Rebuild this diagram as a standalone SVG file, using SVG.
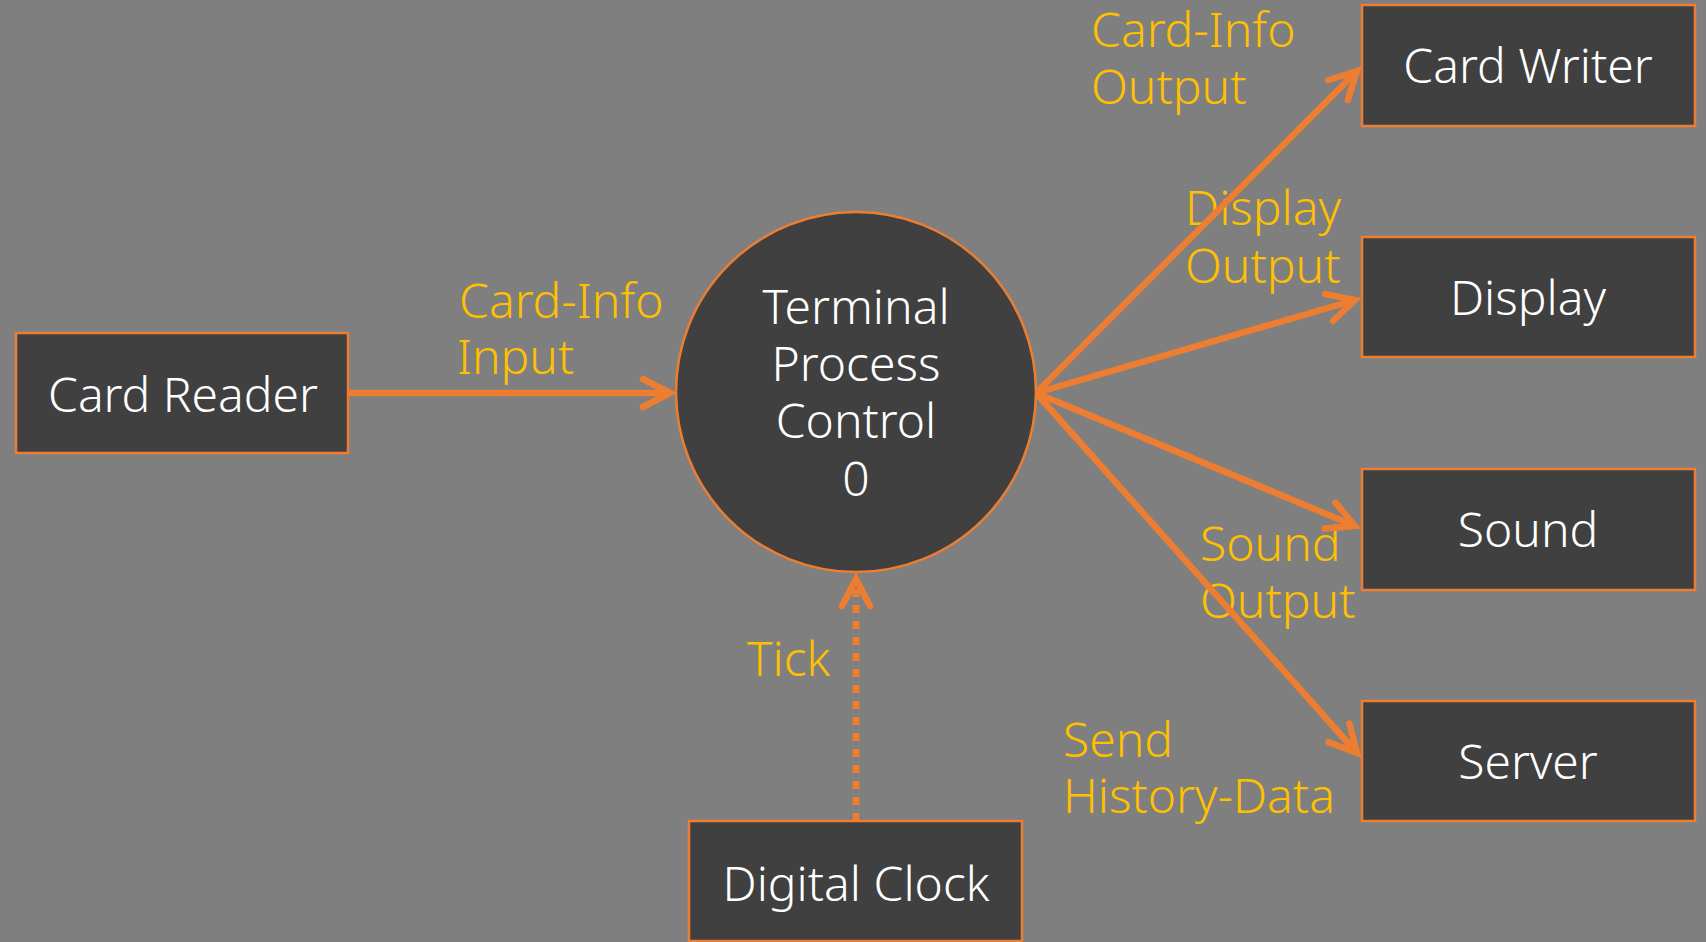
<svg xmlns="http://www.w3.org/2000/svg" width="1706" height="942" viewBox="0 0 1706 942">
  <style>
    .box { fill: #404040; stroke: #ED7D31; stroke-width: 2.5; }
    .proc { fill: #404040; stroke: #ED7D31; stroke-width: 2.5; }
    .ntext { font-family: "Noto Sans", "Open Sans", sans-serif; font-size: 48px; font-weight: 350; fill: #FFFFFF; text-anchor: middle; }
    .label { font-family: "Noto Sans", "Open Sans", sans-serif; font-size: 48px; font-weight: 350; fill: #FFC000; }
    .flow { stroke: #ED7D31; stroke-width: 6.5; fill: none; }
    .dashed { stroke-dasharray: 8 8; stroke-width: 7; }
  </style>
  <defs>
    <marker id="arrow" markerUnits="userSpaceOnUse" orient="auto" refX="0" refY="0" markerWidth="60" markerHeight="60" overflow="visible">
      <path d="M -27 -14 L 0 0 L -27 14" fill="none" stroke="#ED7D31" stroke-width="6.5" stroke-linecap="round" stroke-linejoin="miter"/>
    </marker>
  </defs>
  <rect x="0" y="0" width="1706" height="942" fill="#7F7F7F"/>

  <g id="labels">
    <text class="label" x="459" y="318">Card-Info</text>
    <text class="label" x="457" y="374">Input</text>
    <text class="label" x="1091" y="47">Card-Info</text>
    <text class="label" x="1091" y="104">Output</text>
    <text class="label" x="1185" y="225">Display</text>
    <text class="label" x="1185" y="283">Output</text>
    <text class="label" x="1200" y="561">Sound</text>
    <text class="label" x="1200" y="618">Output</text>
    <text class="label" x="1063" y="757">Send</text>
    <text class="label" x="1063" y="813">History-Data</text>
    <text class="label" x="747" y="676">Tick</text>
  </g>

  <g id="connectors">
    <line class="flow" x1="348" y1="393" x2="670" y2="393" marker-end="url(#arrow)"/>
    <line class="flow" x1="1036" y1="393" x2="1357" y2="71" marker-end="url(#arrow)"/>
    <line class="flow" x1="1036" y1="393" x2="1355" y2="300" marker-end="url(#arrow)"/>
    <line class="flow" x1="1036" y1="393" x2="1355" y2="526" marker-end="url(#arrow)"/>
    <line class="flow" x1="1036" y1="393" x2="1357" y2="753" marker-end="url(#arrow)"/>
    <line class="flow dashed" x1="856" y1="821" x2="856" y2="579" marker-end="url(#arrow)"/>
  </g>

  <g id="card-reader">
    <rect class="box" x="16" y="333" width="332" height="120"/>
    <text class="ntext" x="183" y="412">Card Reader</text>
  </g>

  <g id="terminal-process-control">
    <circle class="proc" cx="856" cy="392" r="180"/>
    <text class="ntext" x="856" y="324">Terminal</text>
    <text class="ntext" x="856" y="381">Process</text>
    <text class="ntext" x="856" y="438">Control</text>
    <text class="ntext" x="856" y="496">0</text>
  </g>

  <g id="card-writer">
    <rect class="box" x="1362" y="5" width="333" height="121"/>
    <text class="ntext" x="1528" y="83">Card Writer</text>
  </g>

  <g id="display">
    <rect class="box" x="1362" y="237" width="333" height="120"/>
    <text class="ntext" x="1528" y="315">Display</text>
  </g>

  <g id="sound">
    <rect class="box" x="1362" y="469" width="333" height="121"/>
    <text class="ntext" x="1528" y="547">Sound</text>
  </g>

  <g id="server">
    <rect class="box" x="1362" y="701" width="333" height="120"/>
    <text class="ntext" x="1528" y="779">Server</text>
  </g>

  <g id="digital-clock">
    <rect class="box" x="689" y="821" width="333" height="120"/>
    <text class="ntext" x="856" y="901">Digital Clock</text>
  </g>
</svg>
